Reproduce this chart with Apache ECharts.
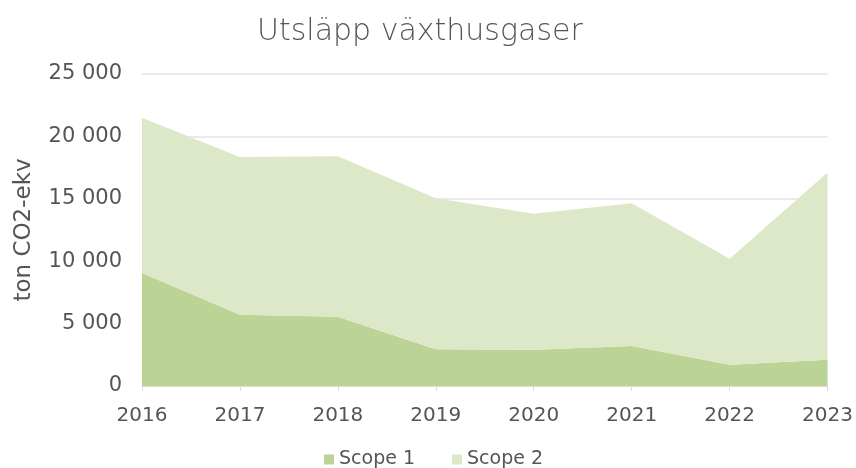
<!DOCTYPE html>
<html>
<head>
<meta charset="utf-8">
<script src="https://cdn.jsdelivr.net/npm/echarts@6/dist/echarts.min.js"></script>
<style>
  html, body { margin: 0; padding: 0; background: #fff; }
  #chart { width: 856px; height: 468px; }
</style>
</head>
<body>
<div id="chart"></div>
<script>
// data
const years = ['2016', '2017', '2018', '2019', '2020', '2021', '2022', '2023'];
const scope1 = [9050, 5700, 5550, 2950, 2900, 3200, 1700, 2100];
const scope2 = [12450, 12650, 12850, 12100, 10900, 11450, 8500, 15000];
const yTicks = [0, 5000, 10000, 15000, 20000, 25000];

const chart = echarts.init(document.getElementById('chart'));

const fmt = (v) => String(v).replace(/\B(?=(\d{3})+(?!\d))/g, ' ');
const FONT = 'DejaVu Sans';

const option = {
  animation: false,
  title: {
    text: 'Utsläpp växthusgaser',
    left: 252,
    top: 12,
    textStyle: { fontFamily: FONT, fontWeight: 200, fontSize: 30, color: '#555' }
  },
  legend: {
    bottom: -1,
    left: 324,
    padding: 0,
    itemWidth: 10,
    itemHeight: 10,
    itemGap: 37,
    icon: 'rect',
    textStyle: { fontFamily: FONT, fontSize: 19, color: '#555' },
    data: ['Scope 1', 'Scope 2']
  },
  grid: { left: 142, right: 28, top: 74, bottom: 82 },
  xAxis: {
    type: 'category',
    data: years,
    boundaryGap: false,
    axisLine: { lineStyle: { color: '#dcdcdc' } },
    axisTick: { show: true, lineStyle: { color: '#dcdcdc' }, length: 5 },
    axisLabel: { fontFamily: FONT, fontSize: 20, color: '#555', margin: 20 }
  },
  yAxis: {
    type: 'value',
    min: yTicks[0],
    max: yTicks[yTicks.length - 1],
    interval: 5000,
    name: 'ton CO2-ekv',
    nameLocation: 'middle',
    nameGap: 106,
    nameTextStyle: { fontFamily: FONT, fontSize: 23, color: '#555' },
    axisLine: { show: false },
    axisTick: { show: false },
    splitLine: { lineStyle: { color: '#e3e3e3', width: 1.5 } },
    axisLabel: { fontFamily: FONT, fontSize: 21, color: '#555', margin: 20, formatter: fmt }
  },
  series: [
    {
      name: 'Scope 1',
      type: 'line',
      stack: 'total',
      data: scope1,
      symbol: 'none',
      lineStyle: { width: 0 },
      itemStyle: { color: '#bcd396' },
      areaStyle: { color: '#bcd396', opacity: 1 }
    },
    {
      name: 'Scope 2',
      type: 'line',
      stack: 'total',
      data: scope2,
      symbol: 'none',
      lineStyle: { width: 0 },
      itemStyle: { color: '#dde8c9' },
      areaStyle: { color: '#dde8c9', opacity: 1 }
    }
  ]
};

chart.setOption(option);
window.addEventListener('resize', () => chart.resize());
</script>
</body>
</html>
